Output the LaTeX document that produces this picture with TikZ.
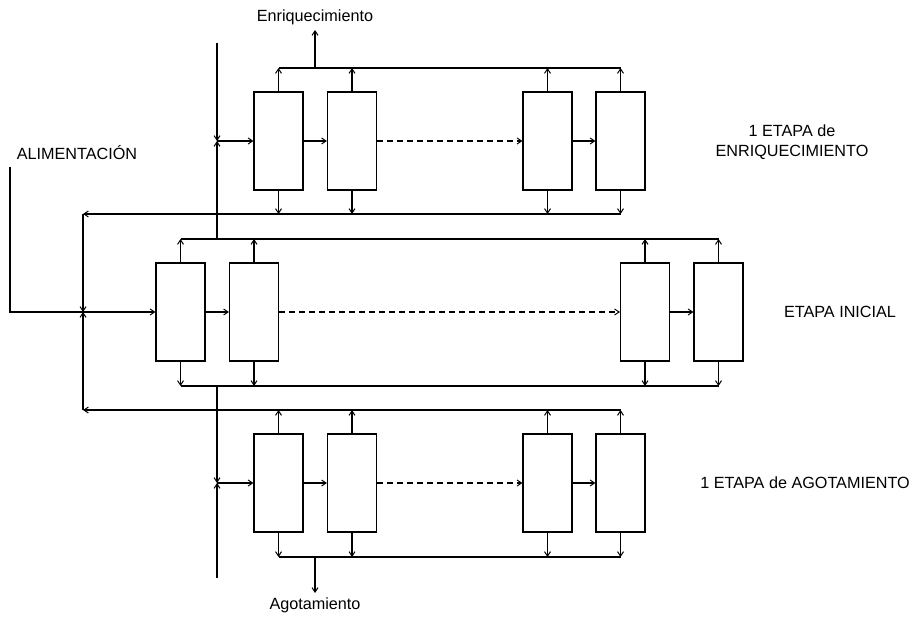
\documentclass[tikz,border=0pt]{standalone}
\usepackage{fontspec}
\setmainfont{Liberation Sans}
\usetikzlibrary{arrows.meta}
\begin{document}
\begin{tikzpicture}[x=1pt,y=-1pt,
  line width=1.1pt,
  arr/.style={-{Straight Barb[length=4.5pt,width=6pt,line width=1pt]}},
  dsh/.style={dash pattern=on 6pt off 4pt},
  unit/.style={draw,rectangle,inner sep=0pt,minimum width=49pt,minimum height=98pt},
  lbl/.style={inner sep=0pt,font=\fontsize{16.2}{20}\selectfont,align=center}]
\path[use as bounding box] (0,0) rectangle (912,617);

% ---- units ----
\node[unit] (T1) at (278.5,141) {};
\node[unit] (T2) at (352,141) {};
\node[unit] (T3) at (547.5,141) {};
\node[unit] (T4) at (620.5,141) {};
\node[unit] (M1) at (180.5,312) {};
\node[unit] (M2) at (254,312) {};
\node[unit] (M3) at (645,312) {};
\node[unit] (M4) at (718.5,312) {};
\node[unit] (B1) at (278.5,483) {};
\node[unit] (B2) at (352,483) {};
\node[unit] (B3) at (547.5,483) {};
\node[unit] (B4) at (620.5,483) {};

% ---- labels ----
\node[lbl] (enr) at (315,17) {Enriquecimiento};
\node[lbl] (ago) at (315,605) {Agotamiento};
\node[lbl] (ali) at (77,153) {ALIMENTACIÓN};
\node[lbl] (lt) at (792,142) {1 ETAPA de\\ENRIQUECIMIENTO};
\node[lbl] (lm) at (840,312) {ETAPA INICIAL};
\node[lbl] (lb) at (805,483) {1 ETAPA de AGOTAMIENTO};

% ---- coordinates ----
\coordinate (ttL) at (278.5,68);  \coordinate (ttR) at (620.5,68);
\coordinate (tbL) at (278.5,214); \coordinate (tbR) at (620.5,214);
\coordinate (mtL) at (180.5,239); \coordinate (mtR) at (718.5,239);
\coordinate (mbL) at (180.5,386); \coordinate (mbR) at (718.5,386);
\coordinate (btL) at (278.5,410); \coordinate (btR) at (620.5,410);
\coordinate (bbL) at (278.5,557); \coordinate (bbR) at (620.5,557);
\coordinate (enrA) at (315,68);  \coordinate (enrB) at (315,30);
\coordinate (agoA) at (315,557); \coordinate (agoB) at (315,593);
\coordinate (rT) at (83,214); \coordinate (rB) at (83,410); \coordinate (rF) at (83,312);
\coordinate (f0) at (10,167); \coordinate (f1) at (10,312);
\coordinate (vTtop) at (217,43); \coordinate (vT) at (217,141); \coordinate (vTm) at (217,239);
\coordinate (vBm) at (217,386); \coordinate (vB) at (217,483); \coordinate (vBbot) at (217,578);
\coordinate (rTr) at (620.5,214); \coordinate (rBr) at (620.5,410);

% ---- top stage ----
\draw (ttL) -- (ttR);
\draw (tbL) -- (tbR);
\foreach \n in {T1,T2,T3,T4}{
  \draw[arr] (\n.north) -- (\n.north |- ttL);
  \draw[arr] (\n.south) -- (\n.south |- tbL);
}
\draw[arr] (T1) -- (T2);
\draw[arr,dsh] (T2) -- (T3);
\draw[arr] (T3) -- (T4);
\draw[arr] (enrA) -- (enrB);

% ---- middle stage ----
\draw (mtL) -- (mtR);
\draw (mbL) -- (mbR);
\foreach \n in {M1,M2,M3,M4}{
  \draw[arr] (\n.north) -- (\n.north |- mtL);
  \draw[arr] (\n.south) -- (\n.south |- mbL);
}
\draw[arr] (M1) -- (M2);
\draw[arr,dsh] (M2) -- (M3);
\draw[arr] (M3) -- (M4);

% ---- bottom stage ----
\draw (btL) -- (btR);
\draw (bbL) -- (bbR);
\foreach \n in {B1,B2,B3,B4}{
  \draw[arr] (\n.north) -- (\n.north |- btL);
  \draw[arr] (\n.south) -- (\n.south |- bbL);
}
\draw[arr] (B1) -- (B2);
\draw[arr,dsh] (B2) -- (B3);
\draw[arr] (B3) -- (B4);
\draw[arr] (agoA) -- (agoB);

% ---- recycle and feed ----
\draw[arr] (rTr) -- (rT);
\draw[arr] (rT) -- (rF);
\draw[arr] (rBr) -- (rB);
\draw[arr] (rB) -- (rF);
\draw[arr] (f0) -- (f1) -- (M1.west);

\draw[arr] (vTtop) -- (vT);
\draw[arr] (vTm) -- (vT);
\draw[arr] (vT) -- (T1.west);
\draw[arr] (vBm) -- (vB);
\draw[arr] (vBbot) -- (vB);
\draw[arr] (vB) -- (B1.west);
\end{tikzpicture}
\end{document}
